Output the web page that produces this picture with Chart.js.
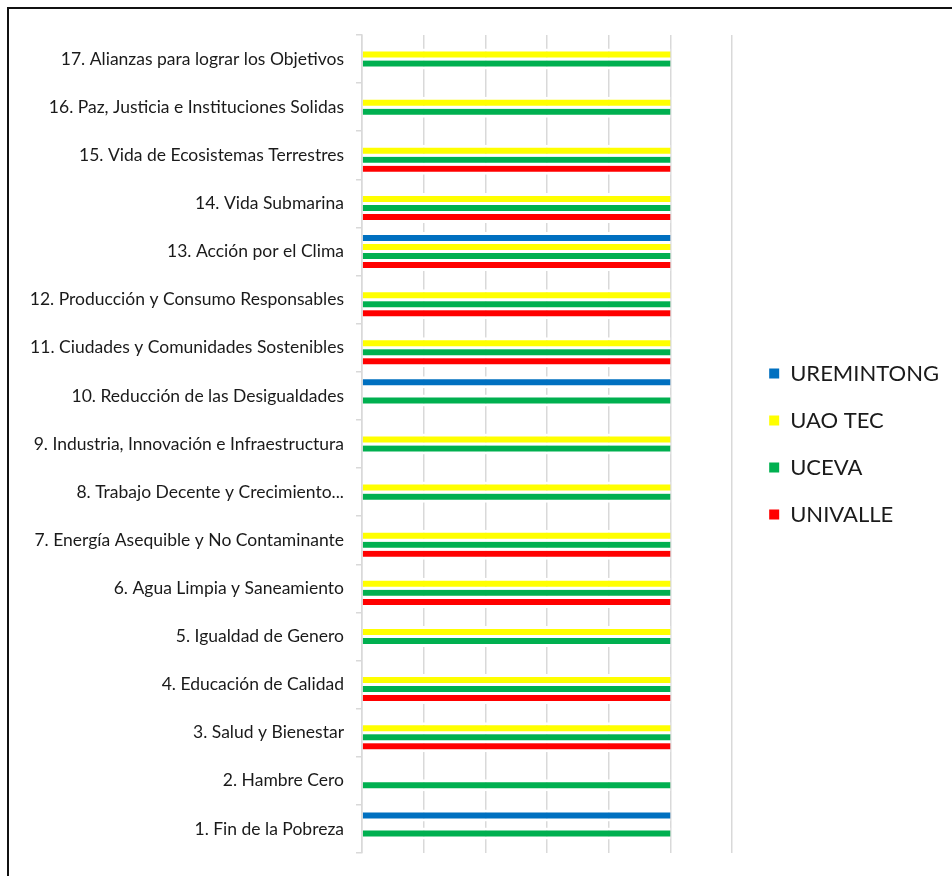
<!DOCTYPE html>
<html>
<head>
<meta charset="utf-8">
<script src="https://cdn.jsdelivr.net/npm/chart.js@4.4.1/dist/chart.umd.min.js"></script>
<style>
	html, body { margin: 0; padding: 0; background: #fff; overflow: hidden; }
	#frame { position: absolute; left: 7px; top: 7px; width: 1000px; height: 1000px; border-left: 2px solid #111; border-top: 2px solid #111; }
	#wrap { position: absolute; left: 0; top: 0; width: 952px; height: 876px; }
</style>
</head>
<body>
<div id="frame"></div>
<div id="wrap"><canvas id="myChart" width="952" height="876"></canvas></div>
<script>
// ODS categories, bottom (1) to top (17)
var categories = [
	"1. Fin de la Pobreza",
	"2. Hambre Cero",
	"3. Salud y Bienestar",
	"4. Educación de Calidad",
	"5. Igualdad de Genero",
	"6. Agua Limpia y Saneamiento",
	"7. Energía Asequible y No Contaminante",
	"8. Trabajo Decente y Crecimiento...",
	"9. Industria, Innovación e Infraestructura",
	"10. Reducción de las Desigualdades",
	"11. Ciudades y Comunidades Sostenibles",
	"12. Producción y Consumo Responsables",
	"13. Acción por el Clima",
	"14. Vida Submarina",
	"15. Vida de Ecosistemas Terrestres",
	"16. Paz, Justicia e Instituciones Solidas",
	"17. Alianzas para lograr los Objetivos"
];

// one value per category, same order as above (null = no bar)
var uremintong = [1, null, null, null, null, null, null, null, null, 1, null, null, 1, null, null, null, null];
var uaoTec = [null, null, 1, 1, 1, 1, 1, 1, 1, null, 1, 1, 1, 1, 1, 1, 1];
var uceva = [1, 1, 1, 1, 1, 1, 1, 1, 1, 1, 1, 1, 1, 1, 1, 1, 1];
var univalle = [null, null, 1, 1, null, 1, 1, null, null, null, 1, 1, 1, 1, 1, null, null];

var seriesNames = ["UREMINTONG", "UAO TEC", "UCEVA", "UNIVALLE"];
var seriesColors = ["#0070C0", "#FFFF00", "#00B050", "#FF0000"];

var xTickMax = 1.2;
var xTickStep = 0.2;

// chart draws top to bottom, so flip the lists
function flip(arr) {
	return arr.slice().reverse();
}

var allSeries = [uremintong, uaoTec, uceva, univalle];
var datasets = allSeries.map(function (values, i) {
	return {
		label: seriesNames[i],
		data: flip(values),
		backgroundColor: seriesColors[i],
		borderColor: "#ffffff",
		borderWidth: { top: 3, bottom: 3, left: 0, right: 0 },
		borderSkipped: false,
		categoryPercentage: 0.75,
		barPercentage: 1.33
	};
});

var gridColor = "#d9d9d9";

new Chart(document.getElementById("myChart").getContext("2d"), {
	type: "bar",
	data: {
		labels: flip(categories),
		datasets: datasets
	},
	options: {
		indexAxis: "y",
		responsive: false,
		animation: false,
		layout: {
			padding: { top: 35, left: 0, right: 3, bottom: 0 }
		},
		scales: {
			y: {
				position: "left",
				grid: {
					offset: true,
					drawOnChartArea: false,
					drawTicks: true,
					tickLength: 6,
					color: gridColor,
					lineWidth: 1.5
				},
				border: { display: true, color: gridColor, width: 1.5 },
				ticks: {
					padding: 12,
					color: "#1a1a1a",
					font: { family: "Lato", size: 17.5 },
					autoSkip: false
				},
				afterFit: function (scale) {
					scale.width = 362;
				}
			},
			// empty spacer between plot and legend
			y2: {
				axis: "y",
				type: "linear",
				position: "right",
				display: true,
				grid: { display: false },
				border: { display: false },
				ticks: { display: false },
				afterFit: function (scale) {
					scale.width = 12;
				}
			},
			x: {
				min: 0,
				max: xTickMax,
				ticks: { display: false, stepSize: xTickStep },
				grid: {
					color: gridColor,
					lineWidth: 1.5,
					drawTicks: false
				},
				border: { display: false },
				afterFit: function (scale) {
					scale.height = 23;
				}
			}
		},
		plugins: {
			tooltip: { enabled: false },
			legend: {
				position: "right",
				fullSize: false,
				maxWidth: 400,
				labels: {
					boxWidth: 10,
					boxHeight: 10,
					padding: 25,
					color: "#1a1a1a",
					font: { family: "Lato", size: 22 },
					generateLabels: function (chart) {
						var items = Chart.defaults.plugins.legend.labels.generateLabels(chart);
						items.forEach(function (item) {
							item.lineWidth = 0;
						});
						return items;
					}
				}
			}
		}
	}
});
</script>
</body>
</html>
